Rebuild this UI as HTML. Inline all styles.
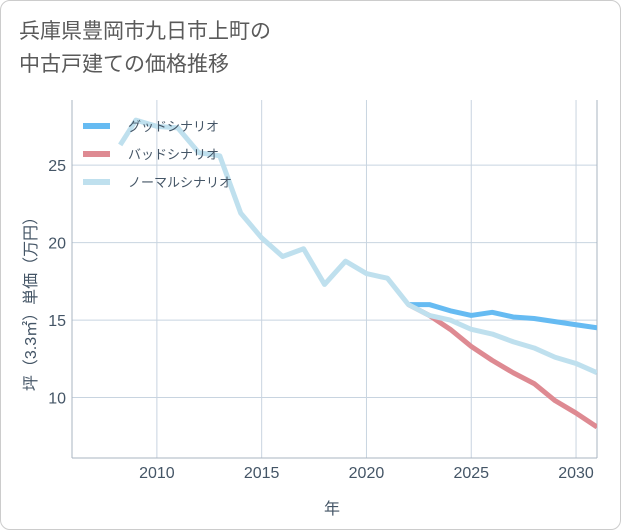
<!DOCTYPE html>
<html><head><meta charset="utf-8"><style>
body{margin:0;background:#fff;font-family:"Liberation Sans","Noto Sans CJK JP",sans-serif;}
.wrap{position:relative;width:619px;height:528px;border:1px solid #ccc;border-radius:10px;background:#fff;overflow:hidden}
.title{position:absolute;left:18px;top:14px;font-size:21px;line-height:33px;color:#5a5a5a}
</style></head><body>
<div class="wrap">
<div class="title">兵庫県豊岡市九日市上町の<br>中古戸建ての価格推移</div>
<svg id="c" width="621" height="530" style="position:absolute;left:-1px;top:-1px"></svg>
</div>
<script>
const years=[2008.25,2009,2010,2011,2012,2013,2014,2015,2016,2017,2018,2019,2020,2021,2022];
const hist=[26.3,27.9,27.5,27.4,25.8,25.6,21.9,20.3,19.1,19.6,17.3,18.8,18.0,17.7,16.0];
const fYears=[2022,2023,2024,2025,2026,2027,2028,2029,2030,2031];
const good=[16.0,16.0,15.6,15.3,15.5,15.2,15.1,14.9,14.7,14.5];
const normal=[16.0,15.3,15.0,14.4,14.1,13.6,13.2,12.6,12.2,11.6];
const bad=[16.0,15.3,14.4,13.3,12.4,11.6,10.9,9.8,9.0,8.1];
const xTicks=[2010,2015,2020,2025,2030];
const yTicks=[10,15,20,25];
const L=72,R=597,T=100,B=458,x0=2005.95,x1=2031,y0=6.1,y1=29.2;
const X=v=>L+(v-x0)/(x1-x0)*(R-L), Y=v=>B-(v-y0)/(y1-y0)*(B-T);
const svg=document.getElementById('c');const NS='http://www.w3.org/2000/svg';
function mk(t,a,txt){const e=document.createElementNS(NS,t);for(const k in a)e.setAttribute(k,a[k]);if(txt!=null)e.textContent=txt;svg.appendChild(e);return e;}
let e;
for(const t of xTicks){
e=mk('line',{x1:X(t),x2:X(t),y1:T,y2:B,stroke:'#c8d4e0','stroke-width':1});


e=mk('text',{x:X(t),y:478,'text-anchor':'middle','font-size':16,fill:'#445566'},t);


}
for(const t of yTicks){
e=mk('line',{x1:L,x2:R,y1:Y(t),y2:Y(t),stroke:'#c8d4e0','stroke-width':1});


e=mk('text',{x:66,y:Y(t)+6,'text-anchor':'end','font-size':16,fill:'#445566'},t);


}
e=mk('line',{x1:L,x2:L,y1:T,y2:B,stroke:'#aab4c0'});


e=mk('line',{x1:L,x2:R,y1:B,y2:B,stroke:'#aab4c0'});


e=mk('line',{x1:R,x2:R,y1:T,y2:B,stroke:'#aab4c0'});


function pts(xs,ys){return xs.map((v,i)=>X(v)+','+Y(ys[i])).join(' ');}
const cp=mk('clipPath',{id:'cp'});const r=document.createElementNS(NS,'rect');
r.setAttribute('x',L);r.setAttribute('y',T-10);r.setAttribute('width',R-L);r.setAttribute('height',B-T+10);cp.appendChild(r);
e=mk('polyline',{points:pts(fYears,bad),fill:'none',stroke:'#de8a92','stroke-width':5,'stroke-linejoin':'round','clip-path':'url(#cp)'});


e=mk('polyline',{points:pts(fYears,good),fill:'none',stroke:'#66bbf2','stroke-width':5,'stroke-linejoin':'round','clip-path':'url(#cp)'});


e=mk('polyline',{points:pts(years.concat(fYears.slice(1)),hist.concat(normal.slice(1))),fill:'none',stroke:'#bfe0ee','stroke-width':5,'stroke-linejoin':'round','clip-path':'url(#cp)'});


const leg=[['グッドシナリオ','#66bbf2'],['バッドシナリオ','#de8a92'],['ノーマルシナリオ','#bfe0ee']];
leg.forEach((l,i)=>{const y=126+i*28;
e=mk('line',{x1:83,x2:110,y1:y,y2:y,stroke:l[1],'stroke-width':6});


e=mk('text',{x:128,y:y+5,'font-size':13,fill:'#445566'},l[0]);


});
e=mk('text',{x:332,y:514,'text-anchor':'middle','font-size':16,fill:'#445566'},'年');


e=mk('text',{x:0,y:0,'text-anchor':'middle','font-size':16,fill:'#445566',transform:'translate(36,300) rotate(-90)'},'坪（3.3㎡）単価（万円）');


</script>
</body></html>
